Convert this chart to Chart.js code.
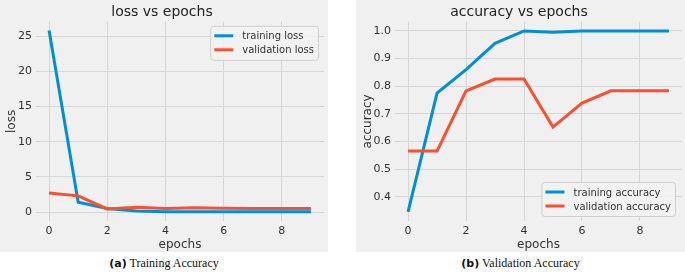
<!DOCTYPE html>
<html>
<head>
<meta charset="utf-8">
<script src="https://cdn.jsdelivr.net/npm/chart.js@4"></script>
<style>
  body { margin: 0; background: #fff; width: 685px; height: 274px; position: relative; overflow: hidden; }
  .panel { position: absolute; top: 0; height: 252px; background: #f0f0f0; }
  .cap { position: absolute; top: 256px; font-family: 'Liberation Serif', serif; font-size: 12px; color: #111; text-align: center; }
  .cap b { font-family: 'DejaVu Sans', sans-serif; font-size: 11px; }
</style>
</head>
<body>
<div class="panel" style="left:0;width:328px"><canvas id="lossChart"></canvas></div>
<div class="panel" style="left:356px;width:329px"><canvas id="accChart"></canvas></div>
<div class="cap" style="left:0;width:328px"><b>(a)</b> Training Accuracy</div>
<div class="cap" style="left:356px;width:329px"><b>(b)</b> Validation Accuracy</div>
<script>
// エポック
const epochs = [0, 1, 2, 3, 4, 5, 6, 7, 8, 9];
const xTicks = [0, 2, 4, 6, 8];

// loss
const trainLoss = [25.8, 1.4, 0.5, 0.15, 0.05, 0.05, 0.03, 0.03, 0.03, 0.03];
const valLoss = [2.7, 2.3, 0.45, 0.7, 0.5, 0.6, 0.55, 0.5, 0.5, 0.5];
const lossTicks = [0, 5, 10, 15, 20, 25];

// accuracy
const trainAcc = [0.345, 0.775, 0.86, 0.955, 1.0, 0.995, 1.0, 1.0, 1.0, 1.0];
const valAcc = [0.565, 0.565, 0.783, 0.826, 0.826, 0.652, 0.739, 0.783, 0.783, 0.783];
const accTicks = [0.4, 0.5, 0.6, 0.7, 0.8, 0.9, 1.0];

const BLUE = '#008fd5';
const RED = '#fc4f30';
const GRID = '#d6d6d6';

Chart.defaults.font.family = "'DejaVu Sans', sans-serif";
Chart.defaults.color = '#333';

// 凡例をプロット内に描く
const innerLegend = {
    id: 'innerLegend',
    afterDraw(chart, args, opts) {
        const ctx = chart.ctx;
        const area = chart.chartArea;
        const sets = chart.data.datasets;
        ctx.save();
        ctx.font = "10px 'DejaVu Sans', sans-serif";
        const tw = Math.max(...sets.map(d => ctx.measureText(d.label).width));
        const padL = 4, lineLen = 19, gap = 9, padR = 4, rowH = 14, padV = 3;
        const w = padL + lineLen + gap + tw + padR;
        const h = padV * 2 + rowH * sets.length;
        const x = area.right - opts.right - w;
        const y = opts.where === 'top' ? area.top + opts.top : area.bottom - opts.bottom - h;
        ctx.fillStyle = 'rgba(242,242,242,0.9)';
        ctx.strokeStyle = '#cfcfcf';
        ctx.lineWidth = 1;
        ctx.beginPath();
        ctx.roundRect(x + 0.5, y + 0.5, w, h, 3);
        ctx.fill();
        ctx.stroke();
        sets.forEach((d, i) => {
            const cy = y + padV + rowH * i + rowH / 2;
            ctx.strokeStyle = d.borderColor;
            ctx.lineWidth = 3;
            ctx.beginPath();
            ctx.moveTo(x + padL, cy);
            ctx.lineTo(x + padL + lineLen, cy);
            ctx.stroke();
            ctx.fillStyle = '#333';
            ctx.textBaseline = 'middle';
            ctx.fillText(d.label, x + padL + lineLen + gap, cy + 1);
        });
        ctx.restore();
    }
};

function makeChart(id, title, yTitle, train, val, labels, yTicks, yMin, yMax, yWidth, padRight, legendOpts, fmt) {
    const ctx = document.getElementById(id).getContext('2d');
    return new Chart(ctx, {
        type: 'line',
        data: {
            datasets: [{
                label: labels[0],
                data: epochs.map((e, i) => ({ x: e, y: train[i] })),
                borderColor: BLUE,
                borderWidth: 3,
                pointRadius: 0,
                order: 1
            }, {
                label: labels[1],
                data: epochs.map((e, i) => ({ x: e, y: val[i] })),
                borderColor: RED,
                borderWidth: 3,
                pointRadius: 0,
                order: 0
            }]
        },
        options: {
            responsive: true,
            maintainAspectRatio: false,
            animation: false,
            layout: { padding: { left: 0, right: padRight, top: 0, bottom: 0 } },
            plugins: {
                legend: { display: false },
                tooltip: { enabled: false },
                title: {
                    display: true,
                    text: title,
                    color: '#222',
                    font: { size: 14, weight: 'normal' },
                    padding: { top: 4, bottom: 1 }
                },
                innerLegend: legendOpts
            },
            scales: {
                x: {
                    type: 'linear',
                    min: -0.45,
                    max: 9.45,
                    afterBuildTicks: s => { s.ticks = xTicks.map(v => ({ value: v })); },
                    afterFit: s => { s.height = 31; },
                    grid: { color: GRID, drawTicks: false },
                    border: { display: false },
                    ticks: { font: { size: 11 }, padding: 4, maxRotation: 0 },
                    title: { display: true, text: 'epochs', font: { size: 12 }, padding: { top: 0, bottom: 0 } }
                },
                y: {
                    min: yMin,
                    max: yMax,
                    afterBuildTicks: s => { s.ticks = yTicks.map(v => ({ value: v })); },
                    afterFit: s => { s.width = yWidth; },
                    grid: { color: GRID, drawTicks: false },
                    border: { display: false },
                    ticks: { font: { size: 11 }, padding: 4, callback: fmt },
                    title: { display: true, text: yTitle, font: { size: 12 }, padding: { top: 5, bottom: 0 } }
                }
            }
        },
        plugins: [innerLegend]
    });
}

makeChart('lossChart', 'loss vs epochs', 'loss', trainLoss, valLoss,
    ['training loss', 'validation loss'], lossTicks, -1.27, 27.03, 36, 4,
    { where: 'top', right: 6, top: 4 }, v => String(v));

makeChart('accChart', 'accuracy vs epochs', 'accuracy', trainAcc, valAcc,
    ['training accuracy', 'validation accuracy'], accTicks, 0.312, 1.033, 39, 3,
    { where: 'bottom', right: 7, bottom: 5 }, v => v.toFixed(1));
</script>
</body>
</html>
